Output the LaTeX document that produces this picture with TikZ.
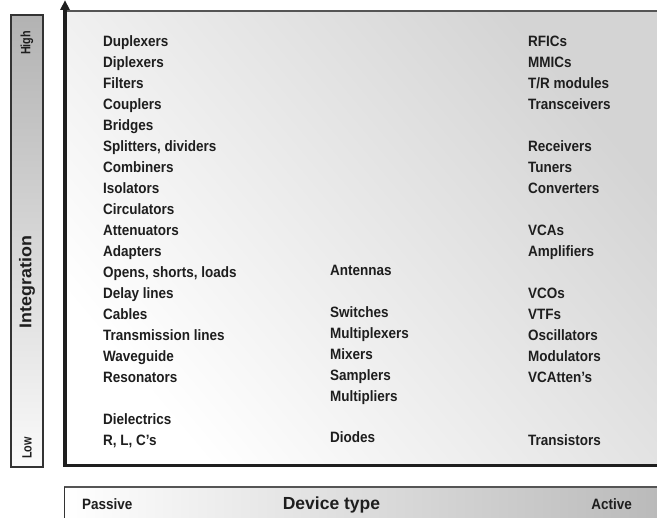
\documentclass[tikz,border=0pt]{standalone}
\usepackage{fontspec}
\setmainfont{Liberation Sans}
\newfontfamily\condfont{Liberation Sans}[FakeStretch=0.9]
\newfontfamily\narrowfont{Liberation Sans}[FakeStretch=0.8]
\newfontfamily\widefont{Liberation Sans}[FakeStretch=1.05]
\usetikzlibrary{arrows.meta}
\definecolor{ink}{HTML}{1E1E1E}
\definecolor{rule}{HTML}{555555}
\definecolor{frame}{HTML}{333333}
\tikzset{
  lab/.style={anchor=base west, inner sep=0pt, text=ink, font=\condfont\fontsize{15}{15}\selectfont\bfseries},
  sidelab/.style={rotate=90, inner sep=0pt, text=ink, font=\narrowfont\fontsize{13.5}{13.5}\selectfont\bfseries},
  biglab/.style={anchor=base, inner sep=0pt, text=ink, font=\fontsize{17.5}{17.5}\selectfont\bfseries},
}
\begin{document}
\begin{tikzpicture}[x=1pt,y=-1pt]
\useasboundingbox (0,0) rectangle (657,518);
% main panel background
\shade[top color=black!17, bottom color=white, shading angle=-50] (65,11) rectangle (657,465);
% left integration bar
\shade[top color=black!30, bottom color=black!2] (11,15) rectangle (43,467);
\draw[frame, line width=1.5pt] (11,15) rectangle (43,467);
% bottom device type bar
\shade[left color=white, right color=black!27] (64,487) rectangle (657,518);
\draw[rule, line width=2pt] (64,487.5) -- (657,487.5);
\draw[frame, line width=1.5pt] (64.5,487) -- (64.5,518);
% axes
\coordinate (axbl) at (63,467.25);
\coordinate (axtr) at (67,9);
\coordinate (xbl) at (63,463.75);
\coordinate (xtr) at (657,467.25);
\coordinate (tipL) at (60,10);
\coordinate (tipR) at (70,10);
\coordinate (tip) at (65,0.5);
\coordinate (tl) at (65,11);
\coordinate (tr) at (657,11);
\draw[rule, line width=2pt] (tl) -- (tr);
\fill[ink] (xbl) rectangle (xtr);
\fill[ink] (axbl) rectangle (axtr);
\fill[ink] (tipL) -- (tip) -- (tipR) -- cycle;
% side labels
\node[sidelab] (high) at (27,43) {High};
\node[sidelab, font=\widefont\fontsize{17}{17}\selectfont\bfseries] (integ) at (27,282) {Integration};
\node[sidelab] (low) at (27,448) {Low};
% bottom labels
\node[lab] (passive) at (82,509.5) {Passive};
\node[biglab] (devtype) at (331.5,509.5) {Device type};
\node[lab, anchor=base east] (active) at (632,509.5) {Active};
% left column
\node[lab] (l1) at (103,47.0) {Duplexers};
\node[lab] (l2) at (103,67.95) {Diplexers};
\node[lab] (l3) at (103,88.9) {Filters};
\node[lab] (l4) at (103,109.85) {Couplers};
\node[lab] (l5) at (103,130.8) {Bridges};
\node[lab] (l6) at (103,151.75) {Splitters, dividers};
\node[lab] (l7) at (103,172.7) {Combiners};
\node[lab] (l8) at (103,193.65) {Isolators};
\node[lab] (l9) at (103,214.6) {Circulators};
\node[lab] (l10) at (103,235.55) {Attenuators};
\node[lab] (l11) at (103,256.5) {Adapters};
\node[lab] (l12) at (103,277.45) {Opens, shorts, loads};
\node[lab] (l13) at (103,298.4) {Delay lines};
\node[lab] (l14) at (103,319.35) {Cables};
\node[lab] (l15) at (103,340.3) {Transmission lines};
\node[lab] (l16) at (103,361.25) {Waveguide};
\node[lab] (l17) at (103,382.2) {Resonators};
\node[lab] (l18) at (103,424.1) {Dielectrics};
\node[lab] (l19) at (103,445.05) {R, L, C’s};
% middle column
\node[lab] (m1) at (330,275.5) {Antennas};
\node[lab] (m2) at (330,317.4) {Switches};
\node[lab] (m3) at (330,338.3) {Multiplexers};
\node[lab] (m4) at (330,359.3) {Mixers};
\node[lab] (m5) at (330,380.2) {Samplers};
\node[lab] (m6) at (330,401.2) {Multipliers};
\node[lab] (m7) at (330,443.0) {Diodes};
% right column
\node[lab] (r1) at (528,47.0) {RFICs};
\node[lab] (r2) at (528,67.95) {MMICs};
\node[lab] (r3) at (528,88.9) {T/R modules};
\node[lab] (r4) at (528,109.85) {Transceivers};
\node[lab] (r5) at (528,151.75) {Receivers};
\node[lab] (r6) at (528,172.7) {Tuners};
\node[lab] (r7) at (528,193.65) {Converters};
\node[lab] (r8) at (528,235.55) {VCAs};
\node[lab] (r9) at (528,256.5) {Amplifiers};
\node[lab] (r10) at (528,298.4) {VCOs};
\node[lab] (r11) at (528,319.35) {VTFs};
\node[lab] (r12) at (528,340.3) {Oscillators};
\node[lab] (r13) at (528,361.25) {Modulators};
\node[lab] (r14) at (528,382.2) {VCAtten’s};
\node[lab] (r15) at (528,445.05) {Transistors};
\end{tikzpicture}
\end{document}
